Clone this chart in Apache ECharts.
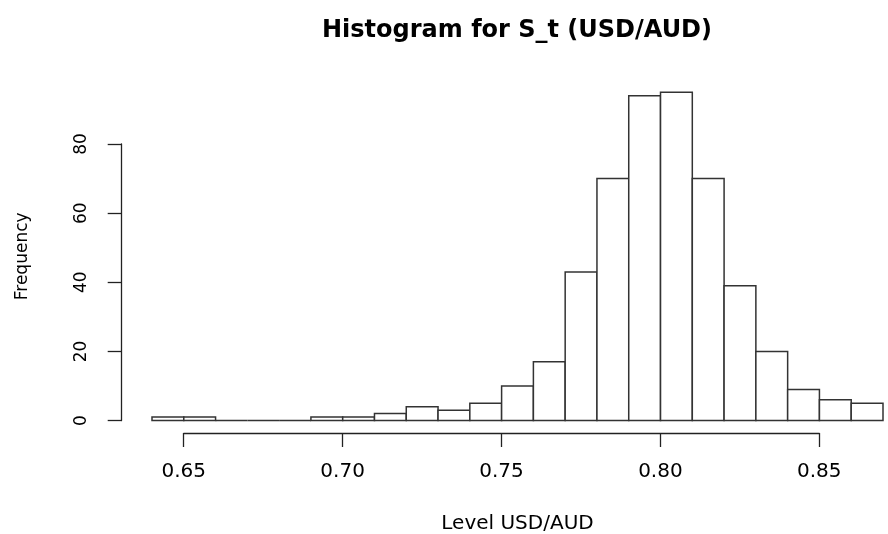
<!DOCTYPE html>
<html>
<head>
<meta charset="utf-8">
<script src="https://cdn.jsdelivr.net/npm/echarts@6/dist/echarts.min.js"></script>
<style>
html,body{margin:0;padding:0;background:#fff;}
#chart{width:888px;height:534px;}
</style>
</head>
<body>
<div id="chart"></div>
<script>
// Histogram bin edges (USD/AUD level) and frequencies
const binEdges = [0.64,0.65,0.66,0.67,0.68,0.69,0.70,0.71,0.72,0.73,0.74,0.75,0.76,0.77,0.78,0.79,0.80,0.81,0.82,0.83,0.84,0.85,0.86,0.87];
const counts   = [1,1,0,0,0,1,1,2,4,3,5,10,17,43,70,94,95,70,39,20,9,6,5];
const xTicks = [0.65,0.70,0.75,0.80,0.85];
const yTicks = [0,20,40,60,80];
const titleText = 'Histogram for S_t (USD/AUD)';
const xName = 'Level USD/AUD';
const yName = 'Frequency';

const bins = counts.map((c,i)=>[binEdges[i], binEdges[i+1], c]);
const FONT = 'DejaVu Sans';
const AX = '#222';

const chart = echarts.init(document.getElementById('chart'), null, {renderer:'canvas'});
chart.setOption({
  animation:false,
  backgroundColor:'#fff',
  title:{
    text:titleText, left:317, top:14,
    textStyle:{fontFamily:FONT, fontWeight:'bold', fontSize:24, color:'#000'}
  },
  grid:[
    {left:152, right:5, top:92.2, bottom:113.5, containLabel:false, outerBoundsMode:'none'},   // bars
    {left:183.7, right:68.7, top:92.2, bottom:101, containLabel:false, outerBoundsMode:'none'}, // x axis
    {left:121.7, right:5, top:144, bottom:113.5, containLabel:false, outerBoundsMode:'none'}    // y axis
  ],
  xAxis:[
    {gridIndex:0, type:'value', min:binEdges[0], max:binEdges[binEdges.length-1],
     axisLine:{show:false}, axisTick:{show:false}, axisLabel:{show:false}, splitLine:{show:false},
     name:xName, nameLocation:'middle', nameGap:93,
     nameTextStyle:{fontFamily:FONT, fontSize:20, color:'#000'}},
    {gridIndex:1, type:'value', min:xTicks[0], max:xTicks[xTicks.length-1], interval:0.05,
     axisLine:{show:true, onZero:false, lineStyle:{color:AX, width:1.3}},
     axisTick:{show:true, length:14, lineStyle:{color:AX, width:1.3}},
     splitLine:{show:false},
     axisLabel:{show:true, margin:29, fontFamily:FONT, fontSize:20, color:'#000',
       formatter:v=>{const t=xTicks.find(x=>Math.abs(x-v)<1e-9);return t===undefined?'':t.toFixed(2);}}},
    {gridIndex:2, type:'value', show:false}
  ],
  yAxis:[
    {gridIndex:0, type:'value', min:0, max:Math.max(...counts),
     axisLine:{show:false}, axisTick:{show:false}, axisLabel:{show:false}, splitLine:{show:false},
     name:yName, nameLocation:'middle', nameGap:121, nameRotate:90,
     nameTextStyle:{fontFamily:FONT, fontSize:17, color:'#000'}},
    {gridIndex:1, type:'value', show:false},
    {gridIndex:2, type:'value', min:yTicks[0], max:yTicks[yTicks.length-1], interval:20,
     axisLine:{show:true, onZero:false, lineStyle:{color:AX, width:1.3}},
     axisTick:{show:true, length:14, lineStyle:{color:AX, width:1.3}},
     splitLine:{show:false},
     axisLabel:{show:true, rotate:90, margin:32, fontFamily:FONT, fontSize:17, color:'#000'}}
  ],
  series:[{
    type:'custom', xAxisIndex:0, yAxisIndex:0,
    data:bins,
    encode:{x:[0,1], y:2},
    renderItem:function(params, api){
      const lo=api.value(0), hi=api.value(1), c=api.value(2);
      const p1=api.coord([lo,c]), p2=api.coord([hi,0]);
      return {type:'rect',
        shape:{x:p1[0], y:p1[1], width:p2[0]-p1[0], height:p2[1]-p1[1]},
        style:{fill:'#fff', stroke:'#333', lineWidth:1.5}};
    }
  }]
});
</script>
</body>
</html>
